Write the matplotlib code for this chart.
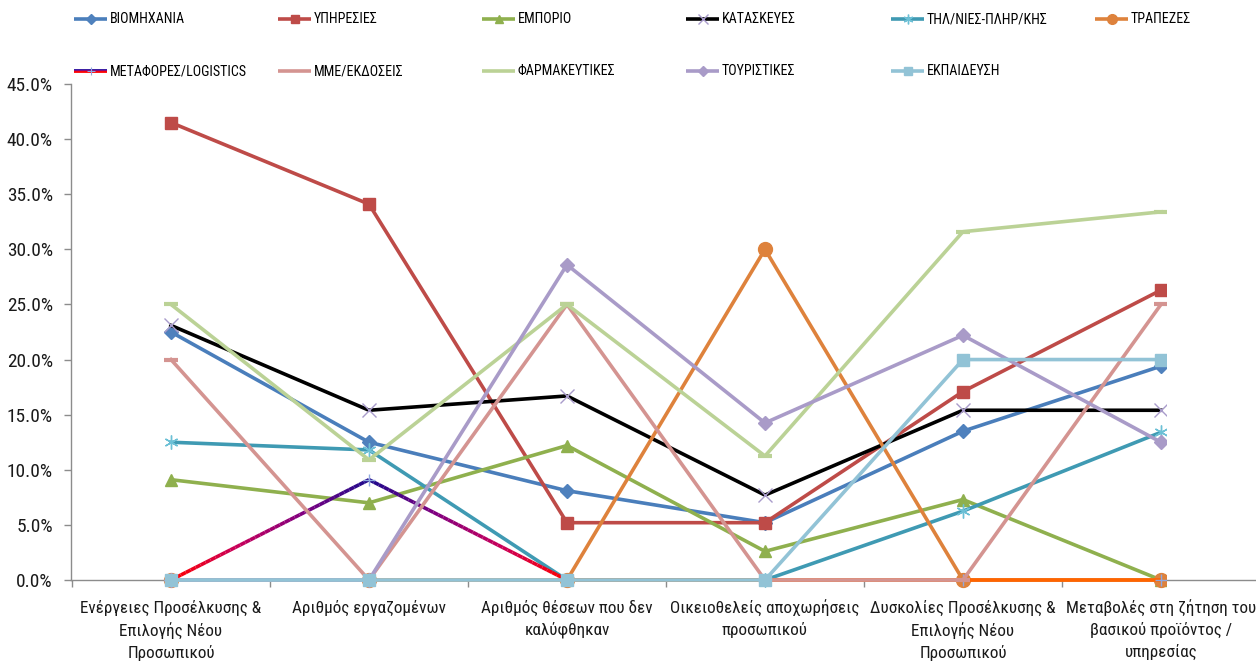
import numpy as np
import matplotlib
matplotlib.use('Agg')
import matplotlib.pyplot as plt
from matplotlib.lines import Line2D
from matplotlib.collections import LineCollection
from matplotlib.colors import LinearSegmentedColormap
from matplotlib.patches import Rectangle
from matplotlib import font_manager

names = {f.name for f in font_manager.fontManager.ttflist}
FONT = 'Liberation Sans'
for cand in ['Liberation Sans Narrow', 'Roboto Condensed', 'Open Sans Condensed', 'Liberation Sans']:
    if cand in names:
        FONT = cand
        break
plt.rcParams['font.family'] = [FONT, 'DejaVu Sans']

# ---------------- data ----------------
categories = [
    "Ενέργειες Προσέλκυσης &\nΕπιλογής Νέου\nΠροσωπικού",
    "Αριθμός εργαζομένων",
    "Αριθμός θέσεων που δεν\nκαλύφθηκαν",
    "Οικειοθελείς αποχωρήσεις\nπροσωπικού",
    "Δυσκολίες Προσέλκυσης &\nΕπιλογής Νέου\nΠροσωπικού",
    "Μεταβολές στη ζήτηση του\nβασικού προϊόντος /\nυπηρεσίας",
]
series_names = ["ΒΙΟΜΗΧΑΝΙΑ", "ΥΠΗΡΕΣΙΕΣ", "ΕΜΠΟΡΙΟ", "ΚΑΤΑΣΚΕΥΕΣ", "ΤΗΛ/ΝΙΕΣ-ΠΛΗΡ/ΚΗΣ",
                "ΤΡΑΠΕΖΕΣ", "ΜΕΤΑΦΟΡΕΣ/LOGISTICS", "ΜΜΕ/ΕΚΔΟΣΕΙΣ", "ΦΑΡΜΑΚΕΥΤΙΚΕΣ",
                "ΤΟΥΡΙΣΤΙΚΕΣ", "ΕΚΠΑΙΔΕΥΣΗ"]
viomichania = [0.225, 0.125, 0.081, 0.052, 0.135, 0.194]
ypiresies = [0.415, 0.341, 0.052, 0.052, 0.171, 0.263]
emporio = [0.091, 0.070, 0.122, 0.026, 0.073, 0.000]
kataskeves = [0.231, 0.154, 0.167, 0.077, 0.154, 0.154]
tilepikoinonies = [0.125, 0.118, 0.000, 0.000, 0.0625, 0.134]
trapezes = [0.000, 0.000, 0.000, 0.300, 0.000, 0.000]
metafores = [0.000, 0.091, 0.000, 0.000, 0.000, 0.000]
mme = [0.200, 0.000, 0.250, 0.000, 0.000, 0.250]
farmakeftikes = [0.250, 0.109, 0.250, 0.1125, 0.316, 0.334]
touristikes = [0.000, 0.000, 0.286, 0.1425, 0.222, 0.125]
ekpaidefsi = [0.000, 0.000, 0.000, 0.000, 0.200, 0.200]
values = [viomichania, ypiresies, emporio, kataskeves, tilepikoinonies, trapezes,
          metafores, mme, farmakeftikes, touristikes, ekpaidefsi]
y_ticks = [0.0, 0.05, 0.10, 0.15, 0.20, 0.25, 0.30, 0.35, 0.40, 0.45]

# ---------------- styles ----------------
ASTER = (6, 2, 0)
styles = [
    dict(color='#4A7EBB', marker='D', ms=7, mfc='#4F81BD', mec='#4F81BD', mew=1),
    dict(color='#BE4B48', marker='s', ms=9, mfc='#BE4B48', mec='#BE4B48', mew=1),
    dict(color='#8FB04E', marker='^', ms=8.5, mfc='#8FB04E', mec='#8FB04E', mew=1),
    dict(color='#000000', marker='x', ms=10, mfc='none', mec='#A99BCB', mew=1),
    dict(color='#3F9AB3', marker=ASTER, ms=10, mfc='none', mec='#6CC0D6', mew=1),
    dict(color='#DE823C', marker='o', ms=10, mfc='#DE823C', mec='#DE823C', mew=1),
    dict(color='#7A0A80', marker='+', ms=9, mfc='none', mec='#8FA8E0', mew=1),
    dict(color='#D49491', marker='_', ms=10, mfc='#D49491', mec='#D49491', mew=3),
    dict(color='#BBD296', marker='_', ms=10, mfc='#BBD296', mec='#BBD296', mew=3),
    dict(color='#A99BC8', marker='D', ms=7.5, mfc='#A99BC8', mec='#A99BC8', mew=1),
    dict(color='#92C3D6', marker='s', ms=9, mfc='#92C3D6', mec='#92C3D6', mew=1),
]
LW = 2.6
meta_cmap = LinearSegmentedColormap.from_list('meta', ['#FF0000', '#C8005A', '#800080', '#1E0A8C'])
META_FLAT = '#FF6400'

W, H = 1256, 666
fig = plt.figure(figsize=(W / 100, H / 100), dpi=100)
renderer = fig.canvas.get_renderer()


def fit_size(text, target_px):
    t = fig.text(0, 0, text, fontsize=10)
    w = t.get_window_extent(renderer).width
    t.remove()
    return 10 * target_px / w


FS_CAT = fit_size("Ενέργειες Προσέλκυσης &", 181)
FS_Y = fit_size("45.0%", 46)
FS_LEG = fit_size("ΚΑΤΑΣΚΕΥΕΣ", 74)
cat_px = FS_CAT * 100 / 72
LS_CAT = 23.5 / (0.94 * cat_px)

ax = fig.add_axes([71 / W, 86 / H, 1185 / W, 496 / H])
x = np.arange(len(categories))
ax.set_xlim(-0.505, 5.48)
ax.set_ylim(0, 0.45)

clip_rect = Rectangle((-0.6, -1), 5.625, 2, transform=ax.transData)

for i, (name, vals, st) in enumerate(zip(series_names, values, styles)):
    z = 3 + i
    if name.startswith("ΜΕΤΑΦΟΡΕΣ"):
        vmax = max(vals)
        segs, cols = [], []
        for k in range(len(vals) - 1):
            y0, y1 = vals[k], vals[k + 1]
            if y0 == 0 and y1 == 0:
                segs.append([(x[k], y0), (x[k + 1], y1)])
                cols.append(META_FLAT)
                continue
            ts = np.linspace(0, 1, 41)
            for a, b in zip(ts[:-1], ts[1:]):
                xa, xb = x[k] + a, x[k] + b
                ya, yb = y0 + (y1 - y0) * a, y0 + (y1 - y0) * b
                segs.append([(xa, ya), (xb, yb)])
                cols.append(meta_cmap(((ya + yb) / 2) / vmax))
        lc = LineCollection(segs, colors=cols, linewidths=LW, zorder=z, capstyle='butt')
        ax.add_collection(lc)
        lc.set_clip_path(clip_rect)
        ln, = ax.plot(x, vals, linestyle='none', marker=st['marker'], ms=st['ms'],
                      mfc=st['mfc'], mec=st['mec'], mew=st['mew'], zorder=z + 0.5)
        ln.set_clip_path(clip_rect)
    else:
        ln, = ax.plot(x, vals, color=st['color'], lw=LW, marker=st['marker'], ms=st['ms'],
                      mfc=st['mfc'], mec=st['mec'], mew=st['mew'], zorder=z,
                      solid_joinstyle='round')
        ln.set_clip_path(clip_rect)

# axes styling
for s in ['top', 'right']:
    ax.spines[s].set_visible(False)
for s in ['left', 'bottom']:
    ax.spines[s].set_color('#8C8C8C')
    ax.spines[s].set_linewidth(1.0)
    ax.spines[s].set_zorder(1)
ax.set_yticks(y_ticks)
ax.set_yticklabels([f"{v * 100:.1f}%" for v in y_ticks], fontsize=FS_Y, color='#1A1A1A')
ax.tick_params(axis='y', direction='out', length=5, width=1, color='#8C8C8C', pad=8)
ax.set_xticks(x)
ax.set_xticklabels(categories, fontsize=FS_CAT, color='#1A1A1A', linespacing=LS_CAT, va='top')
ax.tick_params(axis='x', which='major', length=0, pad=14)
ax.set_xticks(np.arange(-0.5, 5.5, 1.0), minor=True)
ax.tick_params(axis='x', which='minor', direction='out', length=5, width=1, color='#8C8C8C')

# ---------------- legend ----------------
col_x = [74, 278, 482, 686, 891, 1095]
row_y = [19, 71]
LLEN = 33


def X(px):
    return px / W


def Y(py):
    return 1 - py / H


for i, (name, st) in enumerate(zip(series_names, styles)):
    r, c = divmod(i, 6)
    x0 = col_x[c]
    yy = row_y[r]
    if name.startswith("ΜΕΤΑΦΟΡΕΣ"):
        for off, colr in [(-1.3, '#2A0A9C'), (0, '#8A0A7A'), (1.3, '#FF0000')]:
            fig.add_artist(Line2D([X(x0), X(x0 + LLEN)], [Y(yy + off), Y(yy + off)],
                                  color=colr, lw=1.3, solid_capstyle='butt'))
        fig.add_artist(Line2D([X(x0 + LLEN / 2)], [Y(yy)], linestyle='none', marker='+',
                              ms=6, mec='#8FA8E0', mew=0.8))
    else:
        fig.add_artist(Line2D([X(x0), X(x0 + LLEN)], [Y(yy), Y(yy)], color=st['color'],
                              lw=LW, solid_capstyle='butt'))
        if st['marker'] != '_':
            fig.add_artist(Line2D([X(x0 + LLEN / 2)], [Y(yy)], linestyle='none',
                                  marker=st['marker'], ms=st['ms'] * 0.7, mfc=st['mfc'],
                                  mec=st['mec'], mew=st['mew']))
    fig.text(X(x0 + LLEN + 3), Y(yy), name, fontsize=FS_LEG, va='center', ha='left',
             color='#000000')

fig.savefig('out.png', dpi=100)
